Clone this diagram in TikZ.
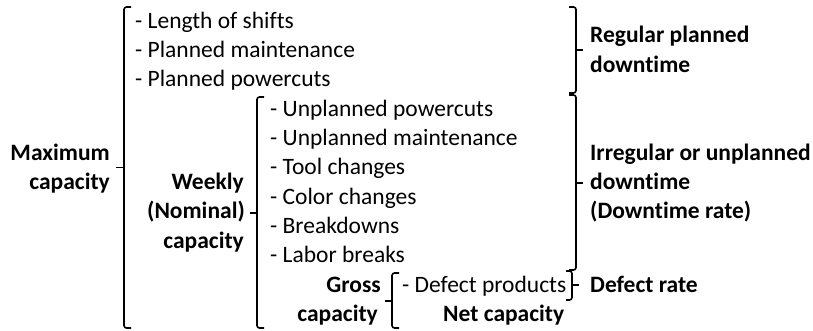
\documentclass[tikz,border=0pt]{standalone}
\usepackage{fontspec}
\setmainfont[Ligatures=NoCommon]{Carlito}
\begin{document}
\begin{tikzpicture}[x=1pt,y=-1pt,
  txt/.style={inner sep=0pt, font=\fontsize{23.5}{28}\selectfont},
  item/.style={txt, anchor=base west},
  lblr/.style={txt, font=\fontsize{23.5}{28}\selectfont\bfseries, anchor=base east},
  lbll/.style={txt, font=\fontsize{23.5}{28}\selectfont\bfseries, anchor=base west},
  brk/.style={line width=1.6pt, rounded corners=2.5pt}
]
\useasboundingbox (0,0) rectangle (813,330);

% list items
\node[item] (i0) at (135,28.3) {- Length of shifts};
\node[item] (i1) at (135,57.6) {- Planned maintenance};
\node[item] (i2) at (135,86.9) {- Planned powercuts};
\node[item] (i3) at (270,116.2) {- Unplanned powercuts};
\node[item] (i4) at (270,145.5) {- Unplanned maintenance};
\node[item] (i5) at (270,174.8) {- Tool changes};
\node[item] (i6) at (270,204.1) {- Color changes};
\node[item] (i7) at (270,233.4) {- Breakdowns};
\node[item] (i8) at (270,262.7) {- Labor breaks};
\node[item] (i9) at (402,292.0) {- Defect products};

% left labels
\node[lblr] (max1) at (110,160.15) {Maximum};
\node[lblr] (max2) at (110,189.45) {capacity};
\node[lblr] (wk1) at (244,189.45) {Weekly};
\node[lblr] (wk2) at (245,218.75) {(Nominal)};
\node[lblr] (wk3) at (244,248.05) {capacity};
\node[lblr] (gr1) at (381,292.0) {Gross};
\node[lblr] (gr2) at (378,321.3) {capacity};
\node[lbll] (net) at (443,321.3) {Net capacity};

% right labels
\node[lbll] (reg1) at (590,42.95) {Regular planned};
\node[lbll] (reg2) at (590,72.25) {downtime};
\node[lbll] (irr1) at (590,160.15) {Irregular or unplanned};
\node[lbll] (irr2) at (590,189.45) {downtime};
\node[lbll] (irr3) at (590,218.75) {(Downtime rate)};
\node[lbll] (def) at (590,292.0) {Defect rate};

% bracket tips
\coordinate (tmax) at (116,167.5);
\coordinate (twk) at (250,213);
\coordinate (tgr) at (385,301);
\coordinate (treg) at (583,50);
\coordinate (tirr) at (583,183);
\coordinate (tdef) at (579,285);

% left-facing brackets
\draw[brk] (131,7) -- (124,7) -- (124,328) -- (131,328);
\draw[brk] (124,167.5) -- (tmax);
\draw[brk] (264,97) -- (257,97) -- (257,328) -- (264,328);
\draw[brk] (257,213) -- (twk);
\draw[brk] (399,273) -- (392,273) -- (392,328) -- (399,328);
\draw[brk] (392,301) -- (tgr);

% right-facing brackets
\draw[brk] (569,7) -- (576,7) -- (576,93) -- (569,93);
\draw[brk] (576,50) -- (treg);
\draw[brk] (569,95) -- (576,95) -- (576,270) -- (569,270);
\draw[brk] (576,183) -- (tirr);
\draw[brk] (566,271) -- (572,271) -- (572,300) -- (566,300);
\draw[brk] (572,285) -- (tdef);
\end{tikzpicture}
\end{document}
